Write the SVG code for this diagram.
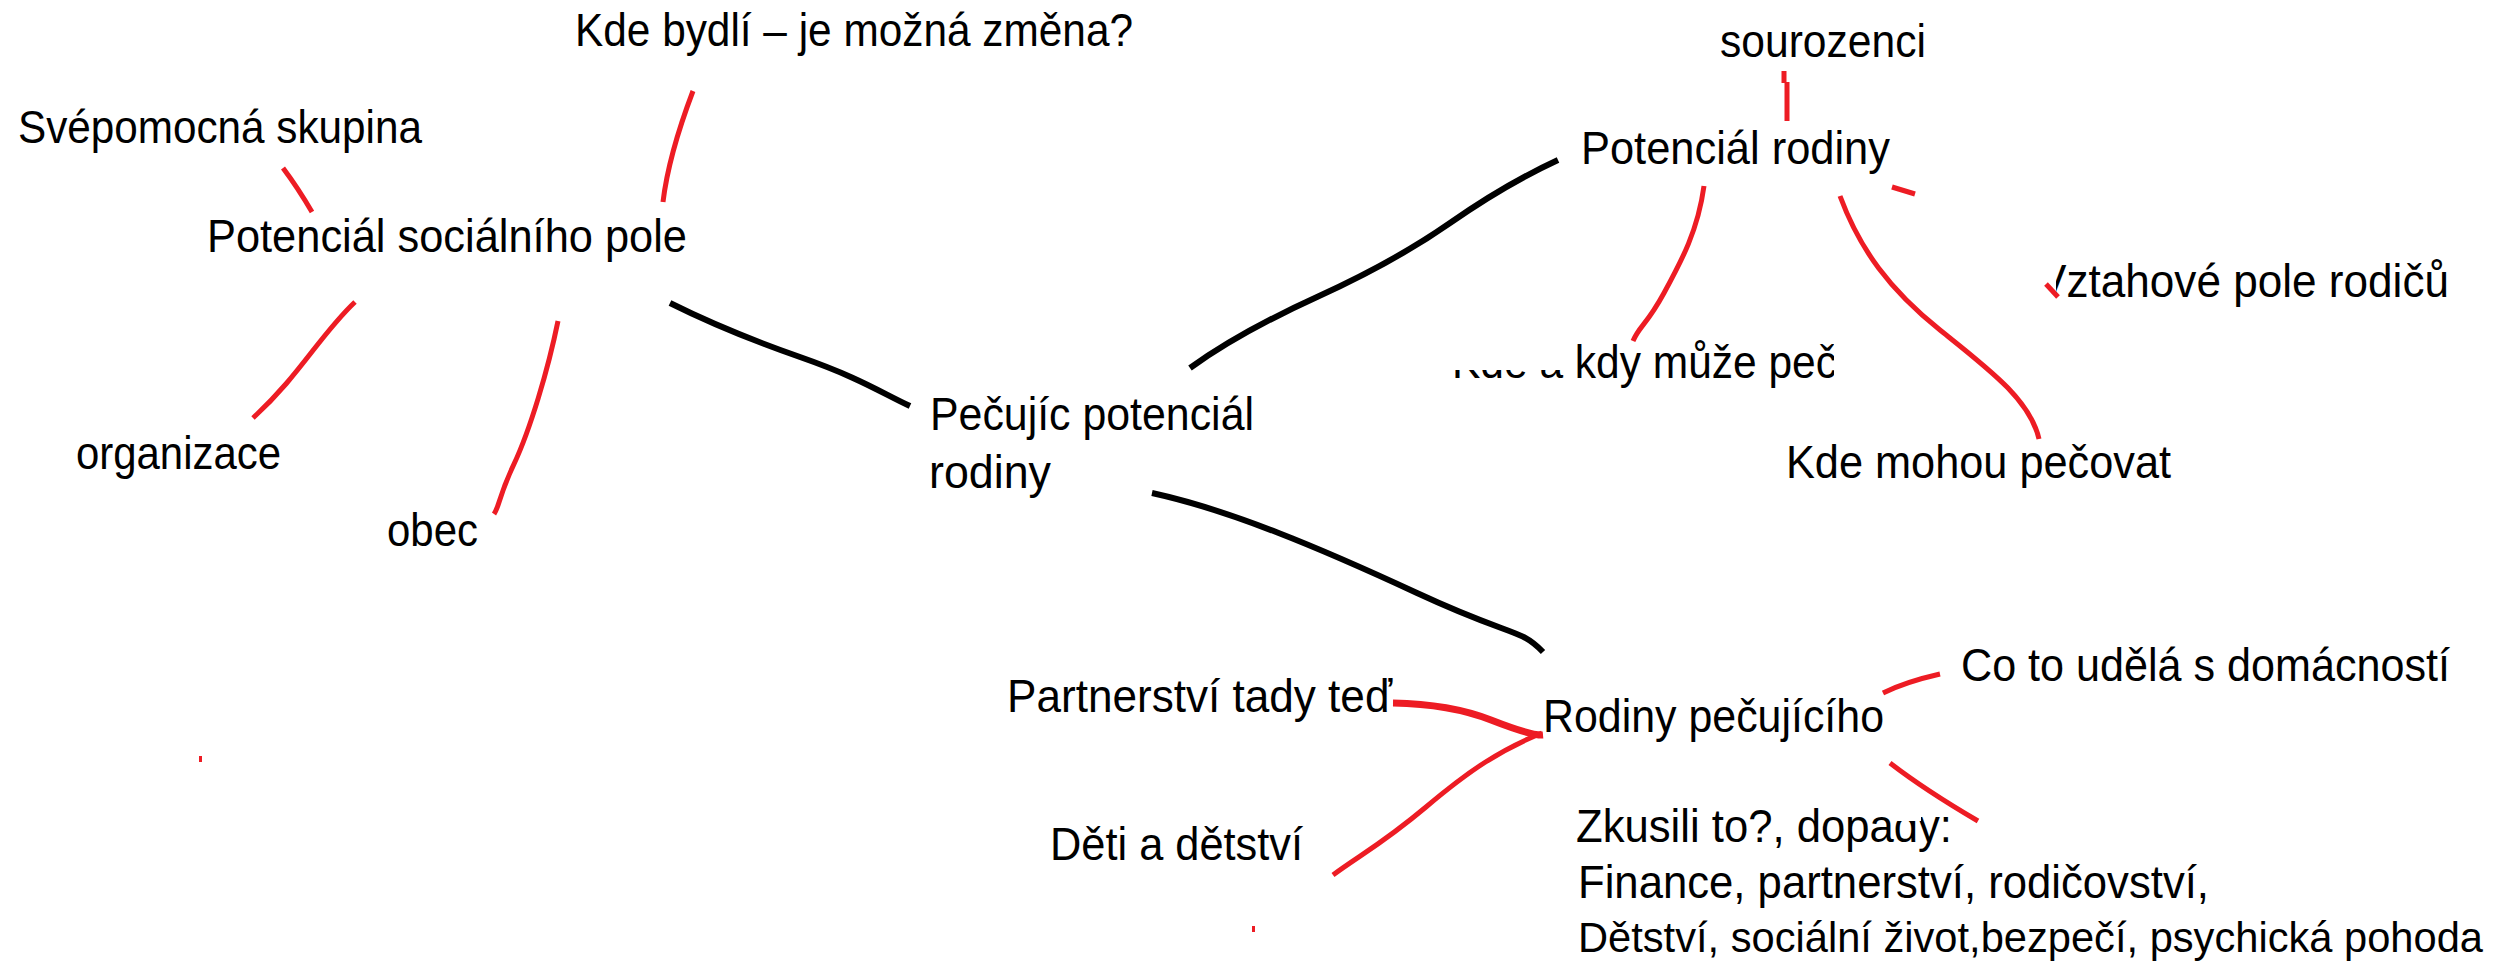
<svg xmlns="http://www.w3.org/2000/svg" width="2499" height="966" viewBox="0 0 2499 966">
<style>
  text { font-family: "Liberation Sans", Arial, sans-serif; font-size: 46px; fill: #000; }
  .blk { fill: none; stroke: #000; stroke-width: 6; stroke-linecap: butt; stroke-linejoin: round; }
  .red { fill: none; stroke: #ED1C24; stroke-width: 5; stroke-linecap: butt; stroke-linejoin: round; }
</style>
<defs>
  <clipPath id="clipKde"><rect x="1400" y="300" width="434" height="120"/></clipPath>
  <clipPath id="clipVzt"><rect x="2056" y="240" width="443" height="80"/></clipPath>
</defs>
<rect x="0" y="0" width="2499" height="966" fill="#fff"/>

<g id="connectors">
  <path class="blk" d="M670,303 C700,318 740,336 800,357 S880,392 910,406"/>
  <path class="blk" d="M1190,368 Q1240,332 1317,297 T1450,223 T1558,160"/>
  <path class="blk" d="M1152,493 C1230,510 1320,548 1417,593 S1520,628 1543,652"/>
  <path class="red" d="M283,168 Q298,188 312,212"/>
  <path class="red" d="M693,91 C682,120 668,160 663,202"/>
  <path class="red" d="M355,302 C320,335 300,375 253,418"/>
  <path class="red" d="M558,321 C548,370 530,430 514,464 S500,505 494,514"/>
  <path class="red" d="M1784,71 L1784,83 M1787,82 L1787,121"/>
  <path class="red" d="M1704,186 C1698,230 1682,260 1664,293 S1640,325 1633,341"/>
  <path class="red" d="M1840,196 C1860,250 1890,290 1940,330 S2030,400 2039,439"/>
  <path class="red" d="M1892,187 L1915,194"/>
  <path class="red" d="M2046,284 L2058,297"/>
  <path class="red" d="M1883,693 Q1905,682 1940,674"/>
  <path class="red" style="stroke-width:7" d="M1393,703 Q1450,704 1491,720 T1543,735"/>
  <path class="red" d="M1542,733 C1500,750 1470,770 1426,807 S1360,855 1333,875"/>
  <path class="red" d="M1890,763 Q1925,790 1978,821"/>
  <rect x="199" y="756" width="3" height="6" fill="#ED1C24"/>
  <rect x="1252" y="926" width="3" height="6" fill="#ED1C24"/>
</g>

<g id="kde-bydli"><text x="575" y="46" textLength="558" lengthAdjust="spacingAndGlyphs">Kde bydlí – je možná změna?</text></g>
<g id="svepomocna"><text x="18" y="143" textLength="404" lengthAdjust="spacingAndGlyphs">Svépomocná skupina</text></g>
<g id="potencial-socialniho-pole"><text x="207" y="252" textLength="480" lengthAdjust="spacingAndGlyphs">Potenciál sociálního pole</text></g>
<g id="organizace"><text x="76" y="469" textLength="205" lengthAdjust="spacingAndGlyphs">organizace</text></g>
<g id="obec"><text x="387" y="546" textLength="91" lengthAdjust="spacingAndGlyphs">obec</text></g>
<g id="pecujic-potencial">
  <text x="930" y="430" textLength="324" lengthAdjust="spacingAndGlyphs">Pečujíc potenciál</text>
  <text x="929" y="488" textLength="122" lengthAdjust="spacingAndGlyphs">rodiny</text>
</g>
<g id="sourozenci"><text x="1720" y="57" textLength="206" lengthAdjust="spacingAndGlyphs">sourozenci</text></g>
<g id="potencial-rodiny"><text x="1581" y="164" textLength="309" lengthAdjust="spacingAndGlyphs">Potenciál rodiny</text></g>
<g id="kde-a-kdy">
  <text x="1452" y="378" textLength="385" lengthAdjust="spacingAndGlyphs" clip-path="url(#clipKde)">Kde a kdy může peč</text>
  <rect x="1440" y="330" width="127" height="40" fill="#fff"/>
</g>
<g id="vztahove-pole"><text x="2037" y="297" textLength="412" lengthAdjust="spacingAndGlyphs" clip-path="url(#clipVzt)">Vztahové pole rodičů</text></g>
<g id="kde-mohou"><text x="1786" y="478" textLength="385" lengthAdjust="spacingAndGlyphs">Kde mohou pečovat</text></g>
<g id="partnerstvi"><text x="1007" y="712" textLength="385" lengthAdjust="spacingAndGlyphs">Partnerství tady teď</text></g>
<g id="rodiny-pecujiciho"><text x="1543" y="732" textLength="341" lengthAdjust="spacingAndGlyphs">Rodiny pečujícího</text></g>
<g id="co-to-udela"><text x="1961" y="681" textLength="489" lengthAdjust="spacingAndGlyphs">Co to udělá s domácností</text></g>
<g id="deti"><text x="1050" y="860" textLength="253" lengthAdjust="spacingAndGlyphs">Děti a dětství</text></g>
<g id="zkusili">
  <text x="1576" y="842" textLength="376" lengthAdjust="spacingAndGlyphs">Zkusili to?, dopady:</text>
  <rect x="1893" y="795" width="28" height="26" fill="#fff"/>
  <text x="1578" y="898" textLength="631" lengthAdjust="spacingAndGlyphs">Finance, partnerství, rodičovství,</text>
  <text x="1578" y="952" style="font-size:42px" textLength="905" lengthAdjust="spacingAndGlyphs">Dětství, sociální život,bezpečí, psychická pohoda</text>
</g>
</svg>
